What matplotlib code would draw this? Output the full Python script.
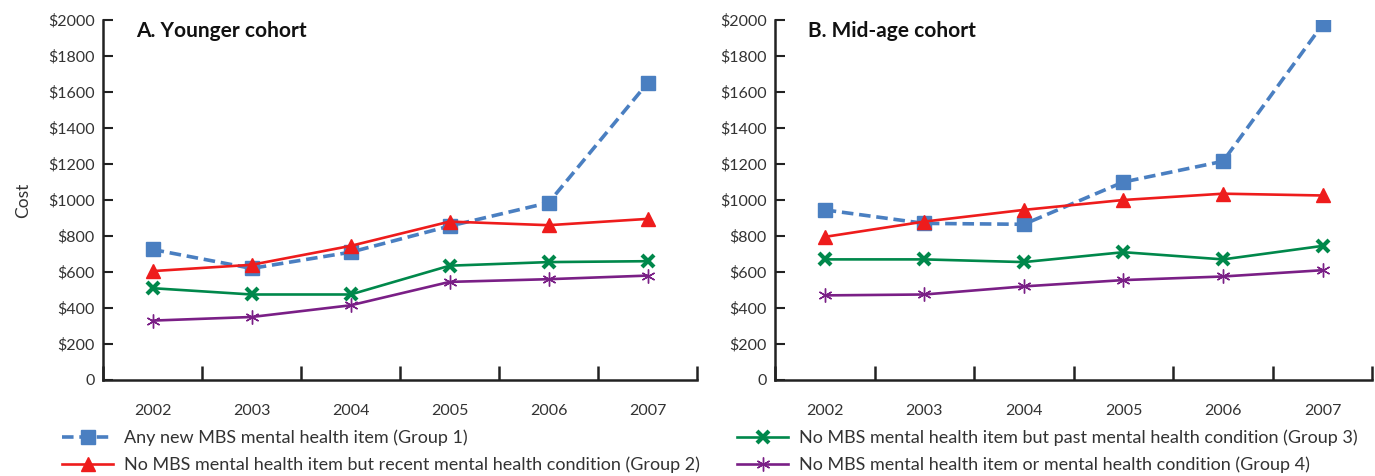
import numpy as np
import matplotlib
matplotlib.use("Agg")
import matplotlib.pyplot as plt
from matplotlib.ticker import FixedLocator, FixedFormatter

plt.rcParams['font.family'] = ['Lato', 'DejaVu Sans']

years = ['2002', '2003', '2004', '2005', '2006', '2007']
ytick_vals = [0, 200, 400, 600, 800, 1000, 1200, 1400, 1600, 1800, 2000]
ytick_labels = ['0', '$200', '$400', '$600', '$800', '$1000', '$1200',
                '$1400', '$1600', '$1800', '$2000']

# younger cohort
young_g1 = [725, 620, 710, 855, 985, 1650]
young_g2 = [605, 640, 745, 880, 860, 895]
young_g3 = [510, 475, 475, 635, 655, 660]
young_g4 = [330, 350, 415, 545, 560, 580]

# mid-age cohort
mid_g1 = [945, 870, 865, 1100, 1215, 1975]
mid_g2 = [795, 880, 945, 1000, 1035, 1025]
mid_g3 = [670, 670, 655, 710, 670, 745]
mid_g4 = [470, 475, 520, 555, 575, 610]

labels = ['Any new MBS mental health item (Group 1)',
          'No MBS mental health item but recent mental health condition (Group 2)',
          'No MBS mental health item but past mental health condition (Group 3)',
          'No MBS mental health item or mental health condition (Group 4)']

BLUE = '#4a7fc1'
RED = '#ee1c1c'
GREEN = '#00884b'
PURPLE = '#7a1f86'
TXT = '#333333'

fig = plt.figure(figsize=(13.75, 4.76), dpi=100)
ax1 = fig.add_axes([0.075, 0.2017, 0.432, 0.7563])
ax2 = fig.add_axes([0.5636, 0.2017, 0.4345, 0.7563])


def draw_panel(ax, g1, g2, g3, g4, title):
    x = np.arange(len(years))
    h = []
    h += ax.plot(x, g1, color=BLUE, lw=2.6, ls=(0, (3.2, 1.6)), marker='s',
                 ms=9.5, mec=BLUE, mfc=BLUE, label=labels[0])
    h += ax.plot(x, g2, color=RED, lw=1.9, marker='^', ms=10, mec=RED,
                 mfc=RED, label=labels[1])
    h += ax.plot(x, g3, color=GREEN, lw=1.9, marker='x', ms=9, mew=3,
                 mec=GREEN, label=labels[2])
    h += ax.plot(x, g4, color=PURPLE, lw=1.9, marker=(6, 2, 0), ms=10,
                 mew=1.0, mec=PURPLE, label=labels[3])

    ax.set_xlim(-0.5, 5.5)
    ax.set_ylim(0, 2000)
    ax.spines['top'].set_visible(False)
    ax.spines['right'].set_visible(False)
    for s in ('left', 'bottom'):
        ax.spines[s].set_linewidth(1.8)
        ax.spines[s].set_color('#222222')

    # tick marks sit between the years, labels centred on each year
    ax.xaxis.set_major_locator(FixedLocator(np.arange(-0.5, 6.0, 1.0)))
    ax.xaxis.set_major_formatter(FixedFormatter([''] * 7))
    ax.xaxis.set_minor_locator(FixedLocator(x))
    ax.xaxis.set_minor_formatter(FixedFormatter(years))
    ax.tick_params(axis='x', which='major', direction='in', length=10,
                   width=1.8, color='#222222')
    ax.tick_params(axis='x', which='minor', length=0, pad=17,
                   labelsize=11.5, labelcolor=TXT)

    ax.set_yticks(ytick_vals)
    ax.set_yticklabels(ytick_labels)
    ax.tick_params(axis='y', direction='in', length=7, width=1.5,
                   color='#222222', labelsize=11.5, labelcolor=TXT, pad=6)

    ax.text(0.055, 0.998, title, transform=ax.transAxes, fontsize=15,
            fontweight='bold', color='#111111', va='top', ha='left')
    return h


h = draw_panel(ax1, young_g1, young_g2, young_g3, young_g4, 'A. Younger cohort')
draw_panel(ax2, mid_g1, mid_g2, mid_g3, mid_g4, 'B. Mid-age cohort')
ax1.set_ylabel('Cost', fontsize=12.5, color=TXT, labelpad=12)

leg_kw = dict(frameon=False, fontsize=13, handlelength=2.8,
              labelspacing=0.6, handletextpad=0.6, borderaxespad=0)
leg1 = fig.legend(h[:2], labels[:2], loc='upper left',
                  bbox_to_anchor=(0.040, 0.113), **leg_kw)
leg2 = fig.legend(h[2:], labels[2:], loc='upper left',
                  bbox_to_anchor=(0.531, 0.113), **leg_kw)
for leg in (leg1, leg2):
    for t in leg.get_texts():
        t.set_color(TXT)

fig.savefig('out.png', dpi=100)
